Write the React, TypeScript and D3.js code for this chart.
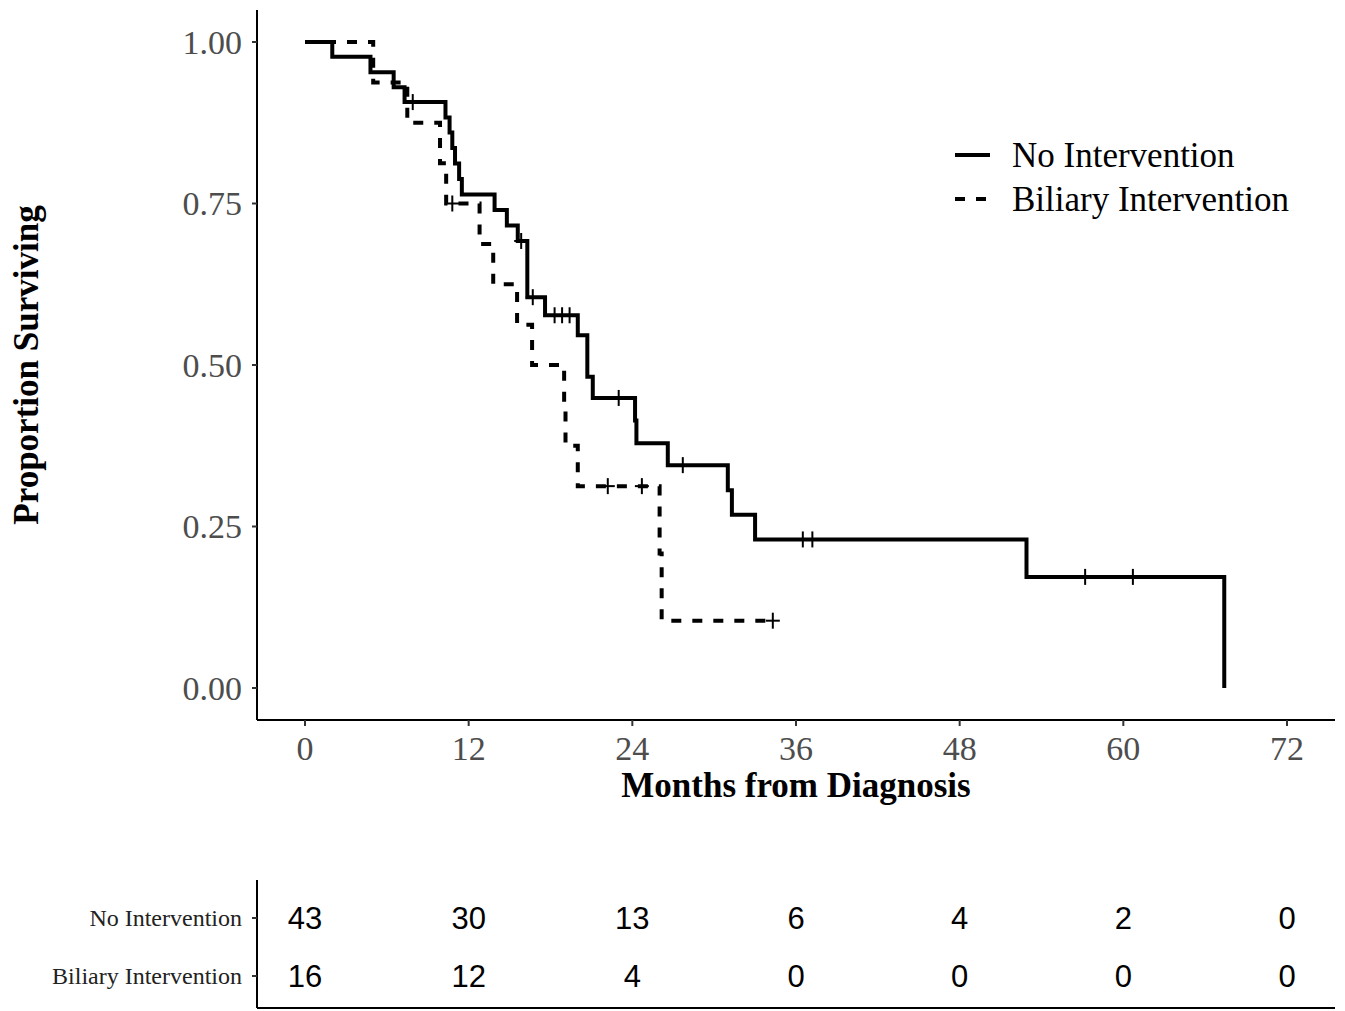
import * as d3 from "d3";
import React from "react";

// Kaplan-Meier steps (months, proportion surviving)
const noIntTimes = [0, 2.0, 4.8, 6.5, 7.3, 10.3, 10.6, 10.8, 11.0, 11.3, 11.5, 13.9, 14.8, 15.6, 16.3, 17.6, 20.0, 20.7, 21.1, 24.2, 24.3, 26.6, 31.0, 31.3, 33.0, 52.9, 67.4];
const noIntSurv = [1, 0.977, 0.953, 0.93, 0.907, 0.883, 0.86, 0.836, 0.812, 0.788, 0.764, 0.74, 0.716, 0.692, 0.605, 0.577, 0.546, 0.482, 0.449, 0.414, 0.379, 0.345, 0.306, 0.268, 0.23, 0.172, 0];
const noIntCensor = [7.9, 15.85, 16.7, 18.3, 18.85, 19.4, 23.0, 27.7, 36.5, 37.2, 57.2, 60.7];

const biliaryTimes = [0, 5.0, 7.5, 9.9, 10.35, 12.8, 13.8, 15.55, 16.65, 19.0, 19.1, 20.0, 26.0, 26.15];
const biliarySurv = [1, 0.9375, 0.875, 0.8125, 0.75, 0.6875, 0.625, 0.5625, 0.5, 0.4375, 0.375, 0.3125, 0.2083, 0.1042];
const biliaryCensor = [10.8, 22.2, 24.7, 34.3];
const biliaryEnd = 34.3;

const groups = ["No Intervention", "Biliary Intervention"];
const xTicks = [0, 12, 24, 36, 48, 60, 72];
const yTicks = [0, 0.25, 0.5, 0.75, 1];
const atRiskNoInt = [43, 30, 13, 6, 4, 2, 0];
const atRiskBiliary = [16, 12, 4, 0, 0, 0, 0];

const serif = "'Liberation Serif', 'DejaVu Serif', serif";
const sans = "'Liberation Sans', Arial, sans-serif";

function survAt(times: number[], surv: number[], t: number) {
  let s = surv[0];
  for (let i = 0; i < times.length; i++) if (times[i] <= t) s = surv[i];
  return s;
}

export default function App() {
  const width = 1345, height = 1011;
  const panel = { left: 257, right: 1335, top: 10, bottom: 720 };
  const x = d3.scaleLinear().domain([0, 72]).range([305, 1287]);
  const y = d3.scaleLinear().domain([0, 1]).range([688, 42]);

  const line = d3
    .line<[number, number]>()
    .x((d) => x(d[0]))
    .y((d) => y(d[1]))
    .curve(d3.curveStepAfter);

  const solidPts: [number, number][] = noIntTimes.map((t, i) => [t, noIntSurv[i]]);
  const dashPts: [number, number][] = biliaryTimes.map((t, i) => [t, biliarySurv[i]]);
  dashPts.push([biliaryEnd, biliarySurv[biliarySurv.length - 1]]);

  const censorMark = (t: number, s: number, key: string) => {
    const cx = x(t), cy = y(s);
    return (
      <g key={key} stroke="#000" strokeWidth={2}>
        <line x1={cx - 7} x2={cx + 7} y1={cy} y2={cy} />
        <line x1={cx} x2={cx} y1={cy - 8} y2={cy + 8} />
      </g>
    );
  };

  const rowY = [918, 976];
  const atRisk = [atRiskNoInt, atRiskBiliary];

  return (
    <svg width={width} height={height} style={{ position: "absolute", left: 0, top: 0, background: "#fff" }}>
      {/* main panel axes */}
      <line x1={panel.left} x2={panel.left} y1={panel.top} y2={panel.bottom} stroke="#000" strokeWidth={2} />
      <line x1={panel.left} x2={panel.right} y1={panel.bottom} y2={panel.bottom} stroke="#000" strokeWidth={2} />

      {yTicks.map((v) => (
        <g key={"y" + v}>
          <line x1={panel.left - 5} x2={panel.left} y1={y(v)} y2={y(v)} stroke="#333" strokeWidth={2} />
          <text x={242} y={y(v)} dy="0.34em" textAnchor="end" fontFamily={serif} fontSize={34} fill="#4d4d4d">
            {v.toFixed(2)}
          </text>
        </g>
      ))}

      {xTicks.map((v) => (
        <g key={"x" + v}>
          <line x1={x(v)} x2={x(v)} y1={panel.bottom} y2={panel.bottom + 6} stroke="#333" strokeWidth={2} />
          <text x={x(v)} y={760} textAnchor="middle" fontFamily={serif} fontSize={34} fill="#4d4d4d">
            {v}
          </text>
        </g>
      ))}

      <text x={796} y={797} textAnchor="middle" fontFamily={serif} fontWeight="bold" fontSize={35} fill="#000">
        Months from Diagnosis
      </text>
      <text transform="translate(38,365) rotate(-90)" textAnchor="middle" fontFamily={serif} fontWeight="bold" fontSize={35} fill="#000">
        Proportion Surviving
      </text>

      {/* survival curves */}
      <path d={line(solidPts) || ""} fill="none" stroke="#000" strokeWidth={4} />
      <path d={line(dashPts) || ""} fill="none" stroke="#000" strokeWidth={4} strokeDasharray="10,11" />
      {noIntCensor.map((t, i) => censorMark(t, survAt(noIntTimes, noIntSurv, t), "cn" + i))}
      {biliaryCensor.map((t, i) => censorMark(t, survAt(biliaryTimes, biliarySurv, t), "cb" + i))}

      {/* legend */}
      <line x1={955} x2={990} y1={155} y2={155} stroke="#000" strokeWidth={4} />
      <line x1={955} x2={990} y1={199} y2={199} stroke="#000" strokeWidth={4} strokeDasharray="10,11" />
      <text x={1012} y={155} dy="0.34em" fontFamily={serif} fontSize={35} fill="#000">{groups[0]}</text>
      <text x={1012} y={199} dy="0.34em" fontFamily={serif} fontSize={35} fill="#000">{groups[1]}</text>

      {/* number at risk table */}
      <line x1={panel.left} x2={panel.left} y1={880} y2={1008} stroke="#000" strokeWidth={2} />
      <line x1={panel.left} x2={panel.right} y1={1008} y2={1008} stroke="#000" strokeWidth={2} />
      {groups.map((g, r) => (
        <g key={"row" + r}>
          <line x1={panel.left - 5} x2={panel.left} y1={rowY[r]} y2={rowY[r]} stroke="#333" strokeWidth={2} />
          <text x={242} y={rowY[r]} dy="0.34em" textAnchor="end" fontFamily={serif} fontSize={24} fill="#222">
            {g}
          </text>
          {atRisk[r].map((n, i) => (
            <text key={i} x={x(xTicks[i])} y={rowY[r]} dy="0.36em" textAnchor="middle" fontFamily={sans} fontSize={31} fill="#000">
              {n}
            </text>
          ))}
        </g>
      ))}
    </svg>
  );
}
